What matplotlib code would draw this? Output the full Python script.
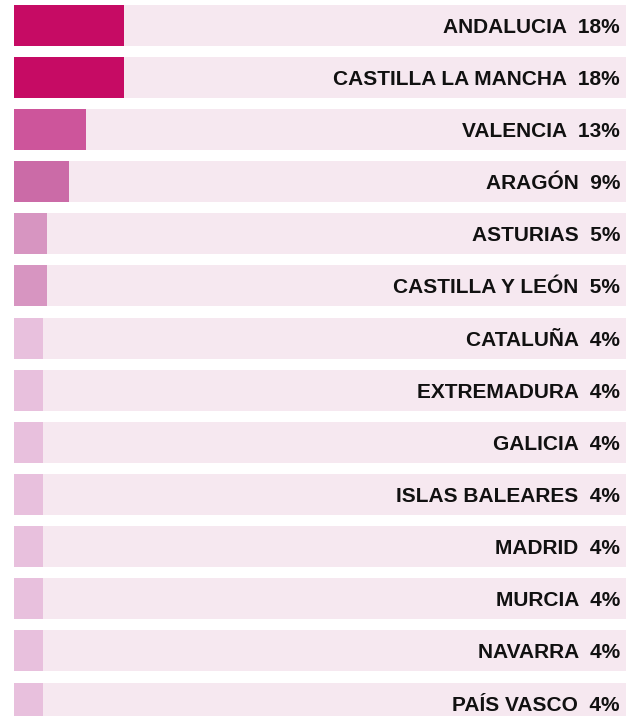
import matplotlib
matplotlib.use("Agg")
import matplotlib.pyplot as plt

regions = ["ANDALUCIA", "CASTILLA LA MANCHA", "VALENCIA", "ARAGÓN", "ASTURIAS",
           "CASTILLA Y LEÓN", "CATALUÑA", "EXTREMADURA", "GALICIA", "ISLAS BALEARES",
           "MADRID", "MURCIA", "NAVARRA", "PAÍS VASCO"]
labels_pct = [18, 18, 13, 9, 5, 5, 4, 4, 4, 4, 4, 4, 4, 4]
bar_lengths = [18, 18, 11.7, 9.0, 5.4, 5.4, 4.7, 4.7, 4.7, 4.7, 4.7, 4.7, 4.7, 4.7]
total = 100

tier_colors = {18: "#C60B64", 13: "#CD559B", 9: "#CB6BA7", 5: "#D795C1", 4: "#E8C0DD"}
bg_color = "#F6E8F0"

fig = plt.figure(figsize=(6.26, 7.16), dpi=100)
ax = fig.add_axes([0, 0, 1, 1])
ax.set_axis_off()

px_per_unit = 612 / total
ax.set_xlim(-14 / px_per_unit, total)
pitch = 52.15
first_center = 25.1
ax.set_ylim((716 - first_center) / pitch, -first_center / pitch)

h = 41 / pitch
ys = list(range(len(regions)))
ax.barh(ys, [total] * len(regions), height=h, left=0, color=bg_color, linewidth=0)
ax.barh(ys, bar_lengths, height=h, left=0,
        color=[tier_colors[p] for p in labels_pct], linewidth=0)

for y, name, p in zip(ys, regions, labels_pct):
    ax.text((620 - 14) / px_per_unit, y, f"{name}  {p}%", ha="right", va="center_baseline",
            fontsize=15, fontweight="bold", family="Liberation Sans", color="#111111")

fig.savefig("out.png", dpi=100)
